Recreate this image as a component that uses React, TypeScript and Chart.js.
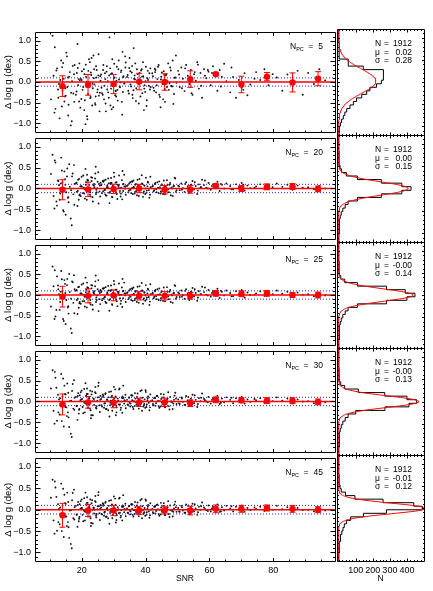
import React, { useEffect, useRef } from "react";
import { Chart, registerables } from "chart.js";
Chart.register(...registerables);

// ---------------- data ----------------
const SNR = [
  10.4, 11.2, 11.8, 12.3, 12.9, 13.1, 13.6, 14.0, 14.4, 14.8, 15.2, 15.5, 15.9, 16.3, 16.6, 17.0, 17.4, 17.8, 10.9, 11.5, 12.6, 13.9, 14.6, 15.7, 16.9, 17.6,
  18.2, 18.5, 18.9, 19.3, 19.6, 20.0, 20.3, 20.7, 21.0, 21.4, 21.7, 22.1, 22.4, 22.8, 23.1, 23.5, 23.8, 24.2, 24.5, 24.9, 25.2, 25.6, 25.9, 18.7, 19.9, 20.9, 21.9, 22.6, 23.3, 24.0, 24.7, 25.4, 19.1, 21.2, 23.7,
  26.1, 26.4, 26.8, 27.1, 27.5, 27.8, 28.2, 28.5, 28.9, 29.2, 29.6, 29.9, 30.3, 30.6, 31.0, 31.3, 31.7, 32.0, 32.4, 32.7, 33.1, 33.4, 33.8, 26.6, 27.3, 28.0, 28.7, 29.4, 30.1, 30.8, 31.5, 32.2, 32.9, 33.6,
  34.2, 34.6, 34.9, 35.3, 35.7, 36.0, 36.4, 36.8, 37.1, 37.5, 37.9, 38.2, 38.6, 39.0, 39.3, 39.7, 40.1, 40.4, 40.8, 41.2, 41.6, 35.0, 35.9, 36.6, 37.7, 38.8, 39.5, 40.6, 41.4,
  42.1, 42.5, 42.9, 43.3, 43.7, 44.1, 44.5, 44.9, 45.3, 45.7, 46.1, 46.5, 46.9, 47.3, 47.7, 48.1, 48.5, 48.9, 49.3, 49.7, 43.0, 44.7, 46.3, 48.3,
  50.2, 50.7, 51.2, 51.7, 52.2, 52.7, 53.2, 53.7, 54.2, 54.7, 55.2, 55.7, 56.2, 56.7, 57.2, 57.7, 53.9,
  58.3, 59.0, 59.7, 60.4, 61.1, 61.8, 62.5, 63.2, 63.9, 64.6, 65.3, 61.5,
  66.5, 67.4, 68.3, 69.2, 70.1, 71.0, 71.9, 72.8,
  74.6, 75.9, 77.2, 78.5, 79.8, 81.1,
  82.8, 84.4, 86.0, 87.6, 89.2,
  90.9, 92.7, 94.4, 96.2,
  12.1, 12.7, 13.3, 13.8, 14.2, 14.9, 15.4, 15.8, 16.1, 16.7, 17.2, 17.7, 11.6, 13.5, 15.0,
  18.4, 18.8, 19.2, 19.7, 20.1, 20.5, 20.8, 21.3, 21.6, 22.0, 22.3, 22.7, 23.0, 23.4, 23.9, 24.3, 24.6, 25.0, 25.3, 25.7, 19.4, 21.8, 22.9, 24.4, 25.8,
  26.2, 26.7, 27.0, 27.4, 27.9, 28.3, 28.6, 29.0, 29.5, 29.8, 30.2, 30.5, 30.9, 31.2, 31.6, 31.9, 32.3, 32.6, 33.0, 33.3, 33.7, 27.6, 29.1, 30.7, 32.8,
  34.4, 34.8, 35.2, 35.5, 35.8, 36.2, 36.7, 37.0, 37.3, 37.8, 38.1, 38.4, 38.9, 39.2, 39.6, 40.0, 40.3, 40.7, 41.0, 41.5, 36.3, 39.9,
  42.3, 42.7, 43.1, 43.5, 43.9, 44.3, 44.8, 45.1, 45.5, 45.9, 46.7, 47.1, 47.5, 47.9, 48.7, 49.1, 49.5, 46.0,
  50.5, 51.4, 52.4, 53.4, 54.4, 55.4, 56.4, 57.4, 58.6, 59.5,
  60.8, 63.6, 66.9, 70.6, 74.1,
];

const DLOGG_PC5 = [
  -0.42, 0.15, -0.65, 0.33, -0.05, -0.88, 0.52, -0.21, 0.08, -0.35, 0.71, -0.12, -0.55, 0.24, -1.05, 0.02, -0.28, 0.41, 1.12, -0.74, -0.18, 0.36, -0.47, 0.11, -0.95, 0.19,
  -0.31, 0.22, -0.08, 0.45, -0.62, 0.05, -0.19, 0.31, -0.44, 0.12, -0.83, 0.27, -0.02, -0.36, 0.58, -0.15, 0.09, -0.51, 0.38, -0.25, 0.16, -0.71, 0.03, 0.92, -0.41, 0.19, -0.11, 0.48, -0.57, -0.06, 0.29, -0.33, 0.07, -1.02, 0.64,
  0.18, -0.27, 0.41, -0.09, -0.52, 0.25, 0.02, -0.38, 0.33, -0.16, 0.55, -0.61, 0.11, -0.22, 0.37, -0.45, 0.06, -0.13, 0.28, -0.79, 0.14, -0.04, 0.47, -0.31, 0.21, -0.18, 1.08, -0.66, 0.09, -0.35, 0.31, -0.01, -0.24, 0.62,
  0.12, -0.21, 0.34, -0.06, 0.23, -0.39, 0.08, 0.45, -0.15, 0.19, -0.52, 0.03, 0.28, -0.27, 0.14, -0.08, 0.37, -0.44, 0.05, 0.21, -0.12, 0.58, -0.31, 0.16, -0.02, 0.31, -0.68, 0.09, -0.18,
  0.21, -0.14, 0.32, -0.25, 0.07, 0.41, -0.36, 0.13, -0.05, 0.26, -0.48, 0.18, 0.02, -0.19, 0.35, -0.09, 0.52, -0.29, 0.11, -0.02, 0.24, -0.61, 0.16, -0.11,
  0.27, -0.12, 0.35, 0.08, -0.22, 0.41, 0.15, -0.05, 0.29, -0.31, 0.19, 0.03, 0.48, -0.16, 0.22, -0.38, 0.11,
  0.31, 0.09, 0.25, -0.08, 0.38, 0.17, -0.21, 0.29, 0.12, 0.44, 0.02, 0.21,
  -0.25, 0.12, -0.38, 0.05, -0.14, 0.21, -0.32, -0.06,
  0.24, 0.05, 0.31, -0.08, 0.19, 0.11,
  -0.21, 0.18, -0.05, 0.27, -0.31,
  0.22, -0.05, 0.31, 0.04,
  0.28, -0.38, 0.05, -0.59, 0.46, -0.15, 0.62, -0.81, 0.13, -0.26, 0.39, -0.48, 0.84, -0.07, -0.33,
  -0.23, 0.34, -0.47, 0.08, 0.26, -0.12, -0.68, 0.42, 0.01, -0.29, 0.55, -0.39, 0.17, -0.04, 0.31, -0.55, 0.11, -0.18, 0.67, -0.26, 0.04, -0.9, 0.23, -0.35, 0.14,
  -0.14, 0.29, -0.42, 0.07, 0.38, -0.25, 0.16, -0.57, 0.21, -0.07, 0.44, -0.32, 0.03, -0.19, 0.52, -0.11, 0.24, -0.48, 0.12, -0.03, 0.35, -0.71, 0.19, -0.21, 0.73,
  0.17, -0.28, 0.26, -0.11, 0.39, -0.2, 0.06, -0.46, 0.31, -0.04, 0.22, -0.35, 0.13, 0.48, -0.16, 0.02, -0.58, 0.27, -0.09, 0.33, 0.82, -0.24,
  0.14, -0.21, 0.29, -0.08, 0.37, -0.31, 0.06, 0.23, -0.42, 0.17, -0.12, 0.45, -0.03, 0.28, -0.53, 0.1, 0.64, -0.17,
  0.18, -0.15, 0.33, 0.06, -0.27, 0.24, 0.42, -0.09, 0.15, 0.29,
  0.22, -0.11, 0.35, -0.19, 0.08,
];

const DLOGG_PC20 = [
  0.35, -0.18, 0.62, -0.41, 0.08, -0.27, 0.74, 0.15, -0.55, 0.22, -0.09, 0.48, -0.33, 0.04, -0.72, 0.29, -0.14, 0.11, 0.81, -0.48, 0.19, -0.05, 0.41, -0.22, -0.88, 0.56,
  0.12, -0.08, 0.21, -0.16, 0.05, 0.28, -0.11, 0.02, -0.24, 0.15, 0.33, -0.04, 0.09, -0.19, 0.18, -0.31, 0.07, 0.24, -0.13, 0.01, 0.39, -0.07, 0.14, -0.42, 0.06, -0.02, 0.19, -0.15, 0.26, 0.03, -0.09, 0.11, -0.27, 0.47, 0.08,
  0.08, -0.11, 0.16, -0.04, 0.21, -0.17, 0.03, 0.12, -0.08, 0.25, -0.21, 0.06, -0.01, 0.14, -0.13, 0.09, 0.31, -0.06, 0.02, -0.26, 0.11, 0.05, -0.15, 0.18, -0.03, 0.07, -0.35, 0.13, 0.38, -0.09, 0.04, -0.19, 0.1, 0.0,
  0.06, -0.09, 0.12, -0.03, 0.17, -0.13, 0.02, 0.09, -0.06, 0.21, -0.18, 0.04, 0.0, 0.11, -0.1, 0.07, 0.26, -0.05, 0.14, -0.22, 0.03, -0.01, 0.16, -0.12, 0.08, 0.32, -0.07, 0.05, -0.15,
  0.05, -0.07, 0.11, -0.02, 0.15, -0.11, 0.03, 0.08, -0.05, 0.19, -0.14, 0.01, 0.09, -0.09, 0.13, 0.02, -0.18, 0.06, 0.24, -0.04, 0.1, -0.12, 0.04, 0.0,
  0.07, -0.04, 0.12, 0.01, -0.08, 0.15, 0.04, -0.11, 0.09, 0.18, -0.02, 0.06, -0.13, 0.1, 0.03, 0.21, -0.06,
  0.08, 0.02, 0.13, -0.03, 0.1, 0.05, 0.16, -0.06, 0.09, 0.0, 0.12, 0.04,
  0.06, -0.02, 0.1, 0.03, 0.13, -0.05, 0.07, 0.01,
  0.05, 0.1, -0.01, 0.08, 0.03, 0.12,
  0.04, 0.09, -0.03, 0.07, 0.02,
  0.03, -0.02, 0.06, 0.0,
  -0.31, 0.18, -0.12, 0.43, -0.52, 0.09, 0.29, -0.21, 0.58, -0.04, 0.36, -0.39, 0.67, 0.12, -0.63,
  0.14, -0.06, 0.23, -0.18, 0.04, 0.31, -0.12, 0.09, -0.27, 0.19, 0.02, -0.09, 0.27, -0.21, 0.11, 0.36, -0.03, 0.16, -0.36, 0.07, -0.14, 0.21, 0.0, 0.52, -0.19,
  0.1, -0.07, 0.19, -0.14, 0.03, 0.24, -0.1, 0.13, -0.2, 0.06, 0.28, -0.04, 0.15, -0.25, 0.08, 0.01, -0.12, 0.2, -0.06, 0.33, 0.05, -0.17, 0.12, -0.02, 0.42,
  0.08, -0.05, 0.15, -0.11, 0.02, 0.19, -0.08, 0.11, -0.16, 0.05, 0.23, -0.02, 0.12, -0.2, 0.07, 0.0, -0.1, 0.16, -0.04, 0.28, 0.04, -0.13,
  0.06, -0.04, 0.13, -0.09, 0.02, 0.17, -0.07, 0.1, -0.13, 0.04, 0.2, -0.02, 0.09, -0.16, 0.05, 0.26, -0.08, 0.01,
  0.05, -0.03, 0.11, -0.07, 0.08, 0.15, -0.05, 0.03, 0.19, 0.0,
  0.06, 0.11, -0.02, 0.09, 0.02,
];

const DLOGG_PC25 = [
  -0.28, 0.21, -0.52, 0.45, 0.02, -0.36, 0.58, 0.1, -0.63, 0.27, -0.12, 0.39, -0.45, 0.07, -0.81, 0.33, -0.19, 0.14, 0.69, -0.58, 0.23, -0.07, 0.36, -0.3, -0.92, 0.48,
  0.1, -0.12, 0.19, -0.2, 0.04, 0.25, -0.15, 0.01, -0.28, 0.13, 0.3, -0.06, 0.08, -0.23, 0.16, -0.35, 0.05, 0.21, -0.17, -0.01, 0.36, -0.1, 0.12, -0.46, 0.04, -0.04, 0.17, -0.19, 0.23, 0.02, -0.12, 0.09, -0.31, 0.42, 0.06,
  0.07, -0.13, 0.15, -0.06, 0.19, -0.19, 0.02, 0.11, -0.1, 0.23, -0.24, 0.05, -0.03, 0.13, -0.15, 0.08, 0.28, -0.08, 0.01, -0.29, 0.1, 0.04, -0.17, 0.16, -0.05, 0.06, -0.38, 0.12, 0.34, -0.11, 0.03, -0.21, 0.09, -0.01,
  0.05, -0.1, 0.11, -0.04, 0.16, -0.14, 0.01, 0.08, -0.07, 0.2, -0.19, 0.03, -0.01, 0.1, -0.11, 0.06, 0.24, -0.06, 0.13, -0.24, 0.02, -0.02, 0.15, -0.13, 0.07, 0.29, -0.08, 0.04, -0.16,
  0.04, -0.08, 0.1, -0.03, 0.14, -0.12, 0.02, 0.07, -0.06, 0.18, -0.15, 0.0, 0.08, -0.1, 0.12, 0.01, -0.19, 0.05, 0.22, -0.05, 0.09, -0.13, 0.03, -0.01,
  0.06, -0.05, 0.11, 0.0, -0.09, 0.14, 0.03, -0.12, 0.08, 0.17, -0.03, 0.05, -0.14, 0.09, 0.02, 0.2, -0.07,
  0.07, 0.01, 0.12, -0.04, 0.09, 0.04, 0.15, -0.07, 0.08, -0.01, 0.11, 0.03,
  0.05, -0.03, 0.09, 0.02, 0.12, -0.06, 0.06, 0.0,
  0.04, 0.09, -0.02, 0.07, 0.02, 0.11,
  0.03, 0.08, -0.04, 0.06, 0.01,
  0.02, -0.03, 0.05, -0.01,
  -0.36, 0.14, -0.17, 0.38, -0.58, 0.05, 0.24, -0.27, 0.51, -0.09, 0.31, -0.44, 0.6, 0.08, -0.7,
  0.12, -0.09, 0.2, -0.21, 0.02, 0.28, -0.15, 0.07, -0.3, 0.17, 0.0, -0.12, 0.24, -0.24, 0.09, 0.33, -0.06, 0.14, -0.39, 0.05, -0.17, 0.19, -0.02, 0.47, -0.22,
  0.09, -0.09, 0.17, -0.16, 0.02, 0.22, -0.12, 0.11, -0.22, 0.05, 0.26, -0.06, 0.13, -0.27, 0.07, 0.0, -0.14, 0.18, -0.08, 0.3, 0.04, -0.19, 0.1, -0.04, 0.39,
  0.07, -0.07, 0.14, -0.12, 0.01, 0.18, -0.09, 0.1, -0.17, 0.04, 0.21, -0.03, 0.11, -0.21, 0.06, -0.01, -0.11, 0.15, -0.05, 0.26, 0.03, -0.14,
  0.05, -0.05, 0.12, -0.1, 0.01, 0.16, -0.08, 0.09, -0.14, 0.03, 0.19, -0.03, 0.08, -0.17, 0.04, 0.24, -0.09, 0.0,
  0.04, -0.04, 0.1, -0.08, 0.07, 0.14, -0.06, 0.02, 0.18, -0.01,
  0.05, 0.1, -0.03, 0.08, 0.01,
];

const DLOGG_PC30 = [
  0.31, -0.22, 0.57, -0.46, 0.05, -0.31, 0.66, 0.12, -0.6, 0.18, -0.14, 0.43, -0.38, 0.01, -0.77, 0.25, -0.17, 0.09, 0.75, -0.53, 0.16, -0.09, 0.38, -0.26, -0.85, 0.51,
  0.11, -0.1, 0.2, -0.18, 0.03, 0.26, -0.13, 0.0, -0.26, 0.14, 0.31, -0.05, 0.07, -0.21, 0.17, -0.33, 0.06, 0.22, -0.15, 0.02, 0.37, -0.09, 0.13, -0.44, 0.05, -0.03, 0.18, -0.17, 0.24, 0.01, -0.11, 0.1, -0.29, 0.44, 0.07,
  0.06, -0.12, 0.14, -0.05, 0.2, -0.18, 0.01, 0.1, -0.09, 0.24, -0.22, 0.04, -0.02, 0.12, -0.14, 0.07, 0.29, -0.07, 0.0, -0.27, 0.09, 0.03, -0.16, 0.17, -0.04, 0.05, -0.36, 0.11, 0.35, -0.1, 0.02, -0.2, 0.08, 0.01,
  0.04, -0.09, 0.1, -0.05, 0.15, -0.13, 0.0, 0.07, -0.08, 0.19, -0.17, 0.02, -0.02, 0.09, -0.12, 0.05, 0.23, -0.07, 0.12, -0.21, 0.01, -0.03, 0.14, -0.11, 0.06, 0.27, -0.09, 0.03, -0.14,
  0.03, -0.09, 0.09, -0.04, 0.13, -0.11, 0.01, 0.06, -0.07, 0.17, -0.14, -0.01, 0.07, -0.11, 0.11, 0.0, -0.18, 0.04, 0.21, -0.06, 0.08, -0.12, 0.02, -0.02,
  0.05, -0.06, 0.1, -0.01, -0.08, 0.13, 0.02, -0.11, 0.07, 0.16, -0.04, 0.04, -0.13, 0.08, 0.01, 0.19, -0.06,
  0.06, 0.0, 0.11, -0.05, 0.08, 0.03, 0.14, -0.06, 0.07, -0.02, 0.1, 0.02,
  0.04, -0.04, 0.08, 0.01, 0.11, -0.05, 0.05, -0.01,
  0.03, 0.08, -0.03, 0.06, 0.01, 0.1,
  0.02, 0.07, -0.05, 0.05, 0.0,
  0.01, -0.04, 0.04, -0.02,
  0.33, -0.26, 0.08, -0.47, 0.55, -0.13, -0.35, 0.21, -0.61, 0.02, 0.42, -0.2, 0.71, -0.09, 0.17,
  -0.11, 0.13, -0.2, 0.22, 0.06, -0.28, 0.3, -0.04, 0.18, -0.15, 0.08, 0.26, -0.33, 0.01, -0.08, 0.35, -0.17, 0.1, 0.45, -0.25, 0.15, -0.02, -0.4, 0.2, 0.04,
  -0.09, 0.11, -0.15, 0.18, 0.04, -0.21, 0.23, -0.03, 0.14, -0.12, 0.07, 0.29, -0.26, 0.0, -0.07, 0.31, -0.15, 0.09, 0.38, -0.05, 0.16, -0.18, 0.02, -0.33, 0.12,
  -0.07, 0.09, -0.12, 0.15, 0.03, -0.18, 0.2, -0.02, 0.11, -0.1, 0.05, 0.25, -0.22, 0.0, -0.06, 0.27, -0.13, 0.08, -0.03, 0.17, 0.01, -0.15,
  -0.06, 0.08, -0.1, 0.13, 0.02, -0.15, 0.18, -0.02, 0.1, -0.09, 0.04, 0.22, -0.19, 0.0, -0.05, 0.14, 0.07, -0.12,
  -0.04, 0.07, -0.08, 0.11, 0.02, 0.15, -0.06, 0.09, 0.03, -0.02,
  0.04, -0.03, 0.09, 0.02, 0.06,
];

const DLOGG_PC45 = [
  0.28, -0.25, 0.52, -0.49, 0.02, -0.34, 0.61, 0.09, -0.64, 0.15, -0.16, 0.4, -0.41, -0.02, -0.8, 0.22, -0.2, 0.06, 0.7, -0.56, 0.13, -0.11, 0.35, -0.29, -0.9, 0.47,
  0.09, -0.11, 0.18, -0.17, 0.02, 0.24, -0.12, -0.01, -0.25, 0.12, 0.29, -0.06, 0.06, -0.2, 0.15, -0.32, 0.04, 0.2, -0.14, 0.01, 0.34, -0.08, 0.11, -0.4, 0.04, -0.04, 0.16, -0.16, 0.22, 0.0, -0.1, 0.08, -0.27, 0.4, 0.05,
  0.05, -0.11, 0.13, -0.06, 0.18, -0.16, 0.0, 0.09, -0.08, 0.22, -0.2, 0.03, -0.03, 0.11, -0.13, 0.06, 0.26, -0.07, -0.01, -0.25, 0.08, 0.02, -0.15, 0.15, -0.05, 0.04, -0.33, 0.1, 0.31, -0.09, 0.01, -0.18, 0.07, 0.0,
  0.03, -0.08, 0.09, -0.04, 0.13, -0.12, -0.01, 0.06, -0.07, 0.17, -0.15, 0.01, -0.03, 0.08, -0.1, 0.04, 0.21, -0.06, 0.11, -0.19, 0.0, -0.02, 0.12, -0.1, 0.05, 0.25, -0.08, 0.02, -0.13,
  0.02, -0.08, 0.08, -0.03, 0.12, -0.1, 0.0, 0.05, -0.06, 0.15, -0.13, -0.02, 0.06, -0.1, 0.1, -0.01, -0.16, 0.03, 0.19, -0.05, 0.07, -0.11, 0.01, -0.03,
  0.04, -0.05, 0.09, -0.02, -0.07, 0.12, 0.01, -0.1, 0.06, 0.14, -0.04, 0.03, -0.12, 0.07, 0.0, 0.17, -0.05,
  0.05, -0.01, 0.1, -0.04, 0.07, 0.02, 0.12, -0.05, 0.06, -0.02, 0.09, 0.01,
  0.03, -0.04, 0.07, 0.0, 0.1, -0.05, 0.04, -0.01,
  0.02, 0.07, -0.03, 0.05, 0.0, 0.09,
  0.01, 0.06, -0.04, 0.04, -0.01,
  0.0, -0.04, 0.03, -0.02,
  0.3, -0.29, 0.05, -0.5, 0.49, -0.16, -0.38, 0.18, -0.66, -0.01, 0.39, -0.23, 0.66, -0.12, 0.14,
  -0.12, 0.11, -0.21, 0.2, 0.04, -0.27, 0.27, -0.05, 0.16, -0.16, 0.06, 0.24, -0.31, 0.0, -0.09, 0.32, -0.18, 0.08, 0.41, -0.24, 0.13, -0.03, -0.38, 0.18, 0.02,
  -0.1, 0.09, -0.14, 0.16, 0.02, -0.2, 0.21, -0.04, 0.12, -0.12, 0.05, 0.26, -0.24, -0.01, -0.08, 0.28, -0.14, 0.07, 0.34, -0.06, 0.14, -0.17, 0.01, -0.3, 0.1,
  -0.07, 0.08, -0.11, 0.13, 0.02, -0.16, 0.18, -0.03, 0.1, -0.09, 0.04, 0.22, -0.2, -0.01, -0.06, 0.24, -0.12, 0.07, -0.04, 0.15, 0.0, -0.14,
  -0.06, 0.07, -0.09, 0.11, 0.01, -0.14, 0.16, -0.03, 0.09, -0.08, 0.03, 0.2, -0.17, -0.01, -0.05, 0.12, 0.06, -0.11,
  -0.04, 0.06, -0.07, 0.1, 0.01, 0.13, -0.06, 0.08, 0.02, -0.03,
  0.03, -0.04, 0.08, 0.01, 0.05,
];

// binned means (red points) and their error bars
const BIN_SNR = [14, 22, 30, 38, 46, 54, 62, 70, 78, 86, 94];
const MEAN_PC5 = [-0.10, -0.07, -0.05, 0.01, 0.00, 0.07, 0.19, -0.06, 0.13, -0.01, 0.08];
const ERR_PC5 = [0.25, 0.25, 0.23, 0.20, 0.20, 0.20, 0.03, 0.20, 0.10, 0.23, 0.17];
const MEAN_PC20 = [-0.03, -0.02, -0.01, 0.00, -0.03, -0.02, 0.06, 0.00, 0.04, 0.05, -0.01];
const ERR_PC20 = [0.24, 0.17, 0.11, 0.10, 0.10, 0.09, 0.05, 0.07, 0.07, 0.07, 0.07];
const MEAN_PC25 = [-0.04, -0.02, -0.01, -0.02, -0.02, -0.02, 0.04, 0.03, 0.04, 0.00, 0.00];
const ERR_PC25 = [0.25, 0.17, 0.13, 0.10, 0.10, 0.08, 0.07, 0.07, 0.07, 0.06, 0.07];
const MEAN_PC30 = [-0.07, -0.02, -0.03, -0.02, -0.02, -0.04, 0.04, 0.03, 0.02, 0.02, -0.01];
const ERR_PC30 = [0.25, 0.14, 0.12, 0.10, 0.10, 0.08, 0.07, 0.06, 0.07, 0.07, 0.07];
const MEAN_PC45 = [-0.13, -0.02, -0.02, -0.02, -0.01, -0.02, 0.02, 0.02, 0.04, 0.02, 0.00];
const ERR_PC45 = [0.28, 0.14, 0.12, 0.09, 0.09, 0.10, 0.09, 0.08, 0.07, 0.08, 0.07];

// histograms of Δ log g (bin centres, counts)
const HIST_CENTERS = [-1.2, -1.12, -1.04, -0.96, -0.88, -0.8, -0.72, -0.64, -0.56, -0.48, -0.4, -0.32, -0.24, -0.16, -0.08, 0, 0.08, 0.16, 0.24, 0.32, 0.4, 0.48, 0.56, 0.64, 0.72, 0.8, 0.88, 0.96, 1.04, 1.12, 1.2];
const HIST_BIN_WIDTH = 0.08;
const HIST_PC5 = [1, 2, 5, 10, 17, 27, 36, 47, 66, 86, 105, 135, 164, 183, 222, 250, 262, 262, 262, 144, 56, 56, 4, 3, 3, 2, 2, 1, 1, 0, 0];
const HIST_PC20 = [0, 1, 1, 2, 3, 4, 6, 9, 15, 24, 38, 55, 110, 250, 370, 424, 370, 250, 110, 45, 17, 8, 4, 3, 2, 2, 1, 1, 1, 0, 0];
const HIST_PC25 = [0, 0, 1, 2, 3, 4, 6, 9, 15, 24, 38, 55, 110, 280, 400, 447, 390, 280, 110, 35, 12, 6, 3, 2, 2, 1, 1, 1, 0, 0, 0];
const HIST_PC30 = [0, 0, 1, 2, 3, 4, 6, 9, 15, 24, 38, 55, 100, 271, 412, 457, 400, 270, 115, 35, 12, 6, 3, 2, 2, 1, 1, 1, 0, 0, 0];
const HIST_PC45 = [0, 1, 1, 2, 3, 5, 8, 12, 18, 25, 33, 45, 70, 145, 280, 490, 440, 260, 95, 40, 15, 8, 5, 3, 2, 1, 1, 0, 0, 0, 0];

// Gaussian fit parameters and panel labels
const N_PC = [5, 20, 25, 30, 45];
const N_STARS = 1912;
const MU = [0.02, 0.0, -0.002, -0.003, -0.01];
const MU_LABELS = ["0.02", "0.00", "-0.00", "-0.00", "-0.01"];
const SIGMA = [0.28, 0.15, 0.14, 0.13, 0.12];
const SIGMA_LABELS = ["0.28", "0.15", "0.14", "0.13", "0.12"];

// axis ticks
const Y_TICKS = [-1, -0.5, 0, 0.5, 1];
const X_TICKS = [20, 40, 60, 80];
const N_TICKS = [100, 200, 300, 400];

const DLOGG = [DLOGG_PC5, DLOGG_PC20, DLOGG_PC25, DLOGG_PC30, DLOGG_PC45];
const MEANS = [MEAN_PC5, MEAN_PC20, MEAN_PC25, MEAN_PC30, MEAN_PC45];
const ERRS = [ERR_PC5, ERR_PC20, ERR_PC25, ERR_PC30, ERR_PC45];
const HISTS = [HIST_PC5, HIST_PC20, HIST_PC25, HIST_PC30, HIST_PC45];

// ---------------- layout / style ----------------
const FONT = "'Liberation Sans', Arial, Helvetica, sans-serif";
const EDGES = [29, 135, 242, 348, 455, 561];
const X_MIN = 5.4;
const X_MAX = 99.3;
const Y_MIN = -1.2;
const Y_MAX = 1.2;
const N_MIN = -10;
const N_MAX = 500;

function stepValues(min: number, max: number, step: number) {
  const out: number[] = [];
  const n = Math.round((max - min) / step);
  for (let k = 0; k <= n; k++) out.push(+(min + k * step).toFixed(6));
  return out;
}

function framePlugin(cfg: any) {
  return {
    id: "idlFrame",
    afterDraw(chart: any) {
      const { ctx, chartArea: a } = chart;
      const xs = chart.scales.x;
      const ys = chart.scales.y;
      const L = Math.round(a.left) + 0.5;
      const R = Math.round(a.right) + 0.5;
      const T = Math.round(a.top) + 0.5;
      const B = Math.round(a.bottom) + 0.5;
      ctx.save();
      ctx.strokeStyle = "#000";
      ctx.lineWidth = 1;
      ctx.beginPath();
      const xt = (vals: number[], len: number) => {
        vals.forEach((v) => {
          if (v <= xs.min || v >= xs.max) return;
          const p = Math.round(xs.getPixelForValue(v)) + 0.5;
          ctx.moveTo(p, B);
          ctx.lineTo(p, B - len);
          ctx.moveTo(p, T);
          ctx.lineTo(p, T + len);
        });
      };
      const yt = (vals: number[], len: number) => {
        vals.forEach((v) => {
          if (v <= ys.min || v >= ys.max) return;
          const p = Math.round(ys.getPixelForValue(v)) + 0.5;
          ctx.moveTo(L, p);
          ctx.lineTo(L + len, p);
          ctx.moveTo(R, p);
          ctx.lineTo(R - len, p);
        });
      };
      xt(cfg.xMajor, cfg.xMajLen);
      xt(cfg.xMinor, cfg.xMinLen);
      yt(cfg.yMajor, cfg.yMajLen);
      yt(cfg.yMinor, cfg.yMinLen);
      ctx.rect(L, T, R - L, B - T);
      ctx.stroke();
      ctx.fillStyle = "#000";
      if (cfg.text) cfg.text(ctx, a);
      ctx.restore();
    },
  };
}

const yFmt = (v: number) => (v < 0 ? "\u2212" : "") + Math.abs(v).toFixed(1);
const hiddenGrid = { display: false, drawTicks: false, tickLength: 0 };

function ScatterPanel({ i }: { i: number }) {
  const ref = useRef<HTMLCanvasElement>(null);
  const last = i === 4;
  const top = EDGES[i] - 6;
  const h = EDGES[i + 1] - EDGES[i] + 6 + (last ? 30 : 6);
  const w = 340;
  useEffect(() => {
    const mean = MEANS[i];
    const err = ERRS[i];
    const datasets: any[] = [
      {
        data: BIN_SNR.map((x, k) => ({ x, y: mean[k] })),
        pointRadius: 3.2,
        pointBackgroundColor: "#ff0000",
        pointBorderWidth: 0,
        showLine: false,
      },
      {
        data: BIN_SNR.flatMap((x, k) => [
          { x, y: mean[k] - err[k] },
          { x, y: mean[k] + err[k] },
        ]),
        pointStyle: "line",
        pointRadius: 3,
        pointBorderColor: "#ff0000",
        pointBorderWidth: 1,
        showLine: false,
      },
      {
        data: BIN_SNR.flatMap((x, k) => [
          { x, y: mean[k] - err[k] },
          { x, y: mean[k] + err[k] },
          { x, y: null },
        ]),
        showLine: true,
        spanGaps: false,
        borderColor: "#ff0000",
        borderWidth: 1,
        pointRadius: 0,
      },
      {
        data: [
          { x: X_MIN, y: 0 },
          { x: X_MAX, y: 0 },
        ],
        showLine: true,
        borderColor: "#ff0000",
        borderWidth: 1.5,
        pointRadius: 0,
      },
      {
        data: [
          { x: X_MIN, y: 0.1 },
          { x: X_MAX, y: 0.1 },
        ],
        showLine: true,
        borderColor: "#2020ff",
        borderWidth: 1,
        borderDash: [1, 2],
        pointRadius: 0,
      },
      {
        data: [
          { x: X_MIN, y: -0.1 },
          { x: X_MAX, y: -0.1 },
        ],
        showLine: true,
        borderColor: "#2020ff",
        borderWidth: 1,
        borderDash: [1, 2],
        pointRadius: 0,
      },
      {
        data: SNR.map((x, k) => ({ x, y: DLOGG[i][k] })),
        pointRadius: 0.95,
        pointBackgroundColor: "#111",
        pointBorderWidth: 0,
        showLine: false,
      },
    ];
    const chart = new Chart(ref.current as HTMLCanvasElement, {
      type: "scatter",
      data: { datasets },
      options: {
        animation: false,
        responsive: false,
        devicePixelRatio: 1,
        events: [],
        layout: { padding: { left: 0, right: 3, top: 6, bottom: last ? 0 : 6 } },
        plugins: { legend: { display: false }, tooltip: { enabled: false } },
        scales: {
          x: {
            type: "linear",
            min: X_MIN,
            max: X_MAX,
            display: last,
            grid: hiddenGrid,
            border: { display: false },
            ticks: {
              font: { family: FONT, size: 9 },
              color: "#000",
              padding: 4,
              autoSkip: false,
              maxRotation: 0,
              callback: (v: any) => String(v),
            },
            title: {
              display: true,
              text: "SNR",
              font: { family: FONT, size: 8.5 },
              color: "#000",
              padding: { top: 0, bottom: 7 },
            },
            afterBuildTicks: (s: any) => {
              s.ticks = X_TICKS.map((value) => ({ value }));
            },
            afterFit: (s: any) => {
              s.height = last ? 30 : 0;
            },
          },
          y: {
            type: "linear",
            min: Y_MIN,
            max: Y_MAX,
            grid: hiddenGrid,
            border: { display: false },
            ticks: {
              font: { family: FONT, size: 9 },
              color: "#000",
              padding: 4,
              callback: (v: any) => yFmt(Number(v)),
            },
            title: {
              display: true,
              text: "\u0394 log g (dex)",
              font: { family: FONT, size: 9.5 },
              color: "#000",
              padding: { top: 2.5, bottom: 0 },
            },
            afterBuildTicks: (s: any) => {
              s.ticks = Y_TICKS.map((value) => ({ value }));
            },
            afterFit: (s: any) => {
              s.width = 35;
            },
          },
        },
      } as any,
      plugins: [
        framePlugin({
          xMajor: X_TICKS,
          xMinor: stepValues(5, 95, 5),
          yMajor: Y_TICKS,
          yMinor: stepValues(-1.2, 1.2, 0.1),
          xMajLen: 3.5,
          xMinLen: 2,
          yMajLen: 5,
          yMinLen: 2.5,
          text: (ctx: any, a: any) => {
            const yc = a.top + 14.5;
            ctx.textBaseline = "middle";
            const big = `8.5px ${FONT}`;
            const small = `5.5px ${FONT}`;
            const val = String(N_PC[i]);
            ctx.font = big;
            const wVal = ctx.measureText(val).width;
            const wEq = ctx.measureText("=").width;
            const wN = ctx.measureText("N").width;
            ctx.font = small;
            const wPC = ctx.measureText("PC").width;
            const xVal = a.right - 12 - wVal;
            const xEq = xVal - 5 - wEq;
            const xPC = xEq - 4.5 - wPC;
            const xN = xPC - wN;
            ctx.font = big;
            ctx.fillText("N", xN, yc);
            ctx.fillText("=", xEq, yc);
            ctx.fillText(val, xVal, yc);
            ctx.font = small;
            ctx.fillText("PC", xPC, yc + 2.5);
          },
        }),
      ],
    });
    return () => chart.destroy();
  }, [i]);
  return (
    <canvas
      ref={ref}
      width={w}
      height={h}
      style={{ position: "absolute", left: 0, top, width: w, height: h }}
    />
  );
}

function HistPanel({ i }: { i: number }) {
  const ref = useRef<HTMLCanvasElement>(null);
  const last = i === 4;
  const top = EDGES[i] - 6;
  const h = EDGES[i + 1] - EDGES[i] + 6 + (last ? 30 : 6);
  const left = 330;
  const w = 103;
  useEffect(() => {
    const counts = HISTS[i];
    const mu = MU[i];
    const sig = SIGMA[i];
    const amp = (N_STARS * HIST_BIN_WIDTH) / (sig * Math.sqrt(2 * Math.PI));
    const ys = stepValues(Y_MIN, Y_MAX, 0.01);
    const gauss = ys.map((y) => ({ x: amp * Math.exp(-((y - mu) * (y - mu)) / (2 * sig * sig)), y }));
    const steps = HIST_CENTERS.flatMap((c, k) => [
      { x: counts[k], y: c - HIST_BIN_WIDTH / 2 },
      { x: counts[k], y: c + HIST_BIN_WIDTH / 2 },
    ]);
    const chart = new Chart(ref.current as HTMLCanvasElement, {
      type: "scatter",
      data: {
        datasets: [
          { data: gauss, showLine: true, borderColor: "#ff0000", borderWidth: 1, pointRadius: 0 },
          { data: steps, showLine: true, borderColor: "#000", borderWidth: 1, pointRadius: 0 },
        ],
      },
      options: {
        animation: false,
        responsive: false,
        devicePixelRatio: 1,
        events: [],
        layout: { padding: { left: 7, right: 9, top: 6, bottom: last ? 0 : 6 } },
        plugins: { legend: { display: false }, tooltip: { enabled: false } },
        scales: {
          x: {
            type: "linear",
            min: N_MIN,
            max: N_MAX,
            display: last,
            grid: hiddenGrid,
            border: { display: false },
            ticks: {
              font: { family: FONT, size: 9 },
              color: "#000",
              padding: 4,
              autoSkip: false,
              maxRotation: 0,
              callback: (v: any) => String(v),
            },
            title: {
              display: true,
              text: "N",
              font: { family: FONT, size: 8.5 },
              color: "#000",
              padding: { top: 0, bottom: 7 },
            },
            afterBuildTicks: (s: any) => {
              s.ticks = N_TICKS.map((value) => ({ value }));
            },
            afterFit: (s: any) => {
              s.height = last ? 30 : 0;
            },
          },
          y: {
            type: "linear",
            min: Y_MIN,
            max: Y_MAX,
            display: false,
          },
        },
      } as any,
      plugins: [
        framePlugin({
          xMajor: N_TICKS,
          xMinor: stepValues(0, 480, 20),
          yMajor: Y_TICKS,
          yMinor: stepValues(-1.2, 1.2, 0.1),
          xMajLen: 3,
          xMinLen: 1.5,
          yMajLen: 2.5,
          yMinLen: 1.5,
          text: (ctx: any, a: any) => {
            ctx.font = `8.5px ${FONT}`;
            ctx.textBaseline = "middle";
            const rows = [
              ["N", String(N_STARS)],
              ["\u03bc", MU_LABELS[i]],
              ["\u03c3", SIGMA_LABELS[i]],
            ];
            rows.forEach((r, k) => {
              const yc = a.top + 15 + k * 8.3;
              ctx.textAlign = "left";
              ctx.fillText(r[0], a.left + 38, yc);
              ctx.fillText("=", a.left + 47, yc);
              ctx.textAlign = "right";
              ctx.fillText(r[1], a.left + 75, yc);
            });
          },
        }),
      ],
    });
    return () => chart.destroy();
  }, [i]);
  return (
    <canvas
      ref={ref}
      width={w}
      height={h}
      style={{ position: "absolute", left, top, width: w, height: h }}
    />
  );
}

export default function App() {
  const idx = [0, 1, 2, 3, 4];
  return (
    <div
      style={{
        position: "absolute",
        left: 0,
        top: 0,
        width: 433,
        height: 591,
        background: "#fff",
        overflow: "hidden",
      }}
    >
      {idx.map((i) => (
        <ScatterPanel key={"s" + i} i={i} />
      ))}
      {idx.map((i) => (
        <HistPanel key={"h" + i} i={i} />
      ))}
    </div>
  );
}
